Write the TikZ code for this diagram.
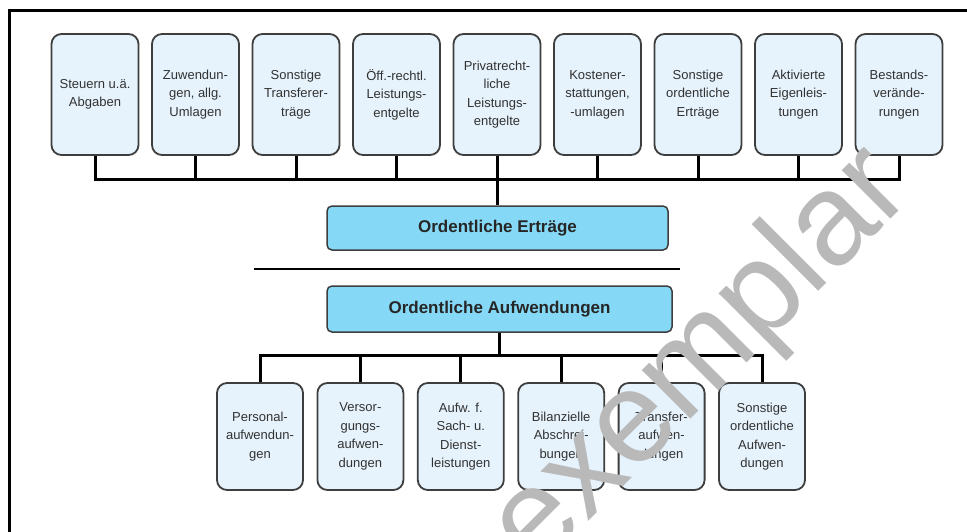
\documentclass[tikz,border=0pt]{standalone}
\usepackage{fontspec}
\setmainfont{Liberation Sans}
\definecolor{boxfill}{RGB}{230,243,252}
\definecolor{boxline}{RGB}{62,62,62}
\definecolor{boxtext}{RGB}{50,50,50}
\definecolor{mainfill}{RGB}{134,217,246}
\definecolor{wmark}{RGB}{185,185,185}
\begin{document}
\begin{tikzpicture}[x=1pt,y=-1pt,
  smallbox/.style={draw=boxline, line width=1.8pt, rounded corners=10pt, fill=boxfill,
    minimum width=87pt, minimum height=121pt, inner sep=0pt, align=center,
    font=\fontsize{13}{18.5}\selectfont, text=boxtext},
  lowbox/.style={smallbox, minimum width=86pt, minimum height=107pt},
  mainbox/.style={draw=boxline, line width=1.5pt, rounded corners=5pt, fill=mainfill,
    inner sep=0pt, font=\fontsize{17}{20}\selectfont\bfseries, text=black!85},
  conn/.style={line width=3pt, black},
  sep/.style={line width=2.5pt, black},
  frame/.style={line width=2.5pt, black}]
\useasboundingbox (0,0) rectangle (967,532);
% frame
\coordinate (fa) at (9.5,532);
\coordinate (fb) at (9.5,10.5);
\coordinate (fc) at (967,10.5);
\draw[frame] (fa) -- (fb) -- (fc);
% top boxes
\node[smallbox] (t1) at (95,94.5) {Steuern u.ä.\\Abgaben};
\node[smallbox] (t2) at (195.5,94.5) {Zuwendun-\\gen, allg.\\Umlagen};
\node[smallbox] (t3) at (296,94.5) {Sonstige\\Transferer-\\träge};
\node[smallbox] (t4) at (396.5,94.5) {Öff.-rechtl.\\Leistungs-\\entgelte};
\node[smallbox] (t5) at (497,94.5) {Privatrecht-\\liche\\Leistungs-\\entgelte};
\node[smallbox] (t6) at (597.5,94.5) {Kostener-\\stattungen,\\-umlagen};
\node[smallbox] (t7) at (698,94.5) {Sonstige\\ordentliche\\Erträge};
\node[smallbox] (t8) at (798.5,94.5) {Aktivierte\\Eigenleis-\\tungen};
\node[smallbox] (t9) at (899,94.5) {Bestands-\\verände-\\rungen};
% main boxes
\node[mainbox, minimum width=341pt, minimum height=44pt] (ert) at (497.5,228) {Ordentliche Erträge};
\node[mainbox, minimum width=345pt, minimum height=46pt] (auf) at (499.5,309) {Ordentliche Aufwendungen};
% separator
\coordinate (s1) at (254,269);
\coordinate (s2) at (680,269);
\draw[sep] (s1) -- (s2);
% lower boxes
\node[lowbox] (b1) at (260,436.5) {Personal-\\aufwendun-\\gen};
\node[lowbox] (b2) at (360.4,436.5) {Versor-\\gungs-\\aufwen-\\dungen};
\node[lowbox] (b3) at (460.8,436.5) {Aufw. f.\\Sach- u.\\Dienst-\\leistungen};
\node[lowbox] (b4) at (561.2,436.5) {Bilanzielle\\Abschrei-\\bungen};
\node[lowbox] (b5) at (661.6,436.5) {Transfer-\\aufwen-\\dungen};
\node[lowbox] (b6) at (762,436.5) {Sonstige\\ordentliche\\Aufwen-\\dungen};
% connectors top
\coordinate (busT) at (0,180);
\draw[conn] (t1.south) -- (t1.south |- busT) -| (t9.south);
\foreach \n in {t2,t3,t4,t5,t6,t7,t8}{\draw[conn] (\n.south) -- (\n.south |- busT);}
\draw[conn] (ert.north) -- (ert.north |- busT);
% connectors bottom
\coordinate (busB) at (0,355);
\draw[conn] (b1.north) -- (b1.north |- busB) -| (b6.north);
\foreach \n in {b2,b3,b4,b5}{\draw[conn] (\n.north) -- (\n.north |- busB);}
\draw[line width=3.5pt] (auf.south) -- (auf.south |- busB);
% watermark
\begin{scope}
\clip (0,0) rectangle (967,532);
\node[rotate=45, anchor=base east, text=wmark, inner sep=0pt,
  font=\fontsize{130}{130}\selectfont] (wm) at (915,195) {Leseexemplar};
\end{scope}
\end{tikzpicture}
\end{document}
